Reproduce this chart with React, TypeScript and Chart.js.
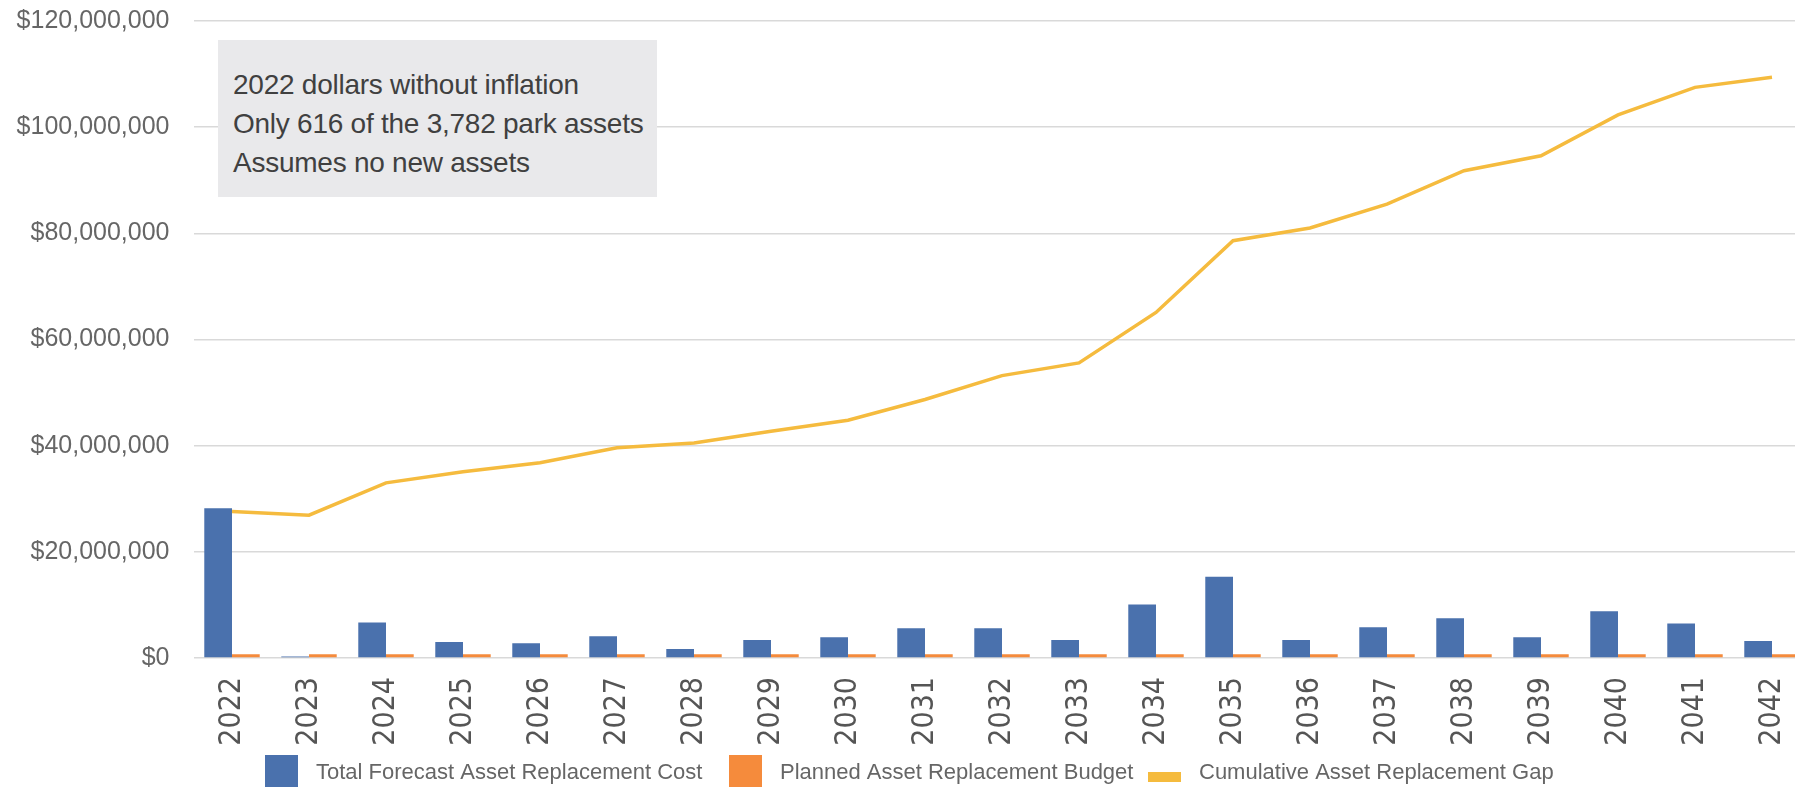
import React, { useEffect, useRef } from "react";
import { Chart, registerables } from "chart.js";

Chart.register(...registerables);

const years = ["2022", "2023", "2024", "2025", "2026", "2027", "2028", "2029", "2030", "2031", "2032", "2033", "2034", "2035", "2036", "2037", "2038", "2039", "2040", "2041", "2042"];

const totalForecastCost = [28200000, 300000, 6700000, 3000000, 2800000, 4100000, 1700000, 3400000, 3900000, 5600000, 5600000, 3400000, 10100000, 15300000, 3400000, 5800000, 7500000, 3900000, 8800000, 6500000, 3200000];

const plannedBudget = [700000, 700000, 700000, 700000, 700000, 700000, 700000, 700000, 700000, 700000, 700000, 700000, 700000, 700000, 700000, 700000, 700000, 700000, 700000, 700000, 700000];

const cumulativeGap = [27600000, 26900000, 33000000, 35100000, 36800000, 39600000, 40500000, 42700000, 44800000, 48700000, 53200000, 55600000, 65100000, 78600000, 81000000, 85500000, 91800000, 94600000, 102300000, 107500000, 109400000];

const yMin = 0;
const yMax = 120000000;
const yStep = 20000000;

const seriesLabels = ["Total Forecast Asset Replacement Cost", "Planned Asset Replacement Budget", "Cumulative Asset Replacement Gap"];
const seriesColors = ["#4a71ad", "#f58b3c", "#f5bb3e"];

const noteLines = ["2022 dollars without inflation", "Only 616 of the 3,782 park assets", "Assumes no new assets"];

const FONT = '"Liberation Sans", Arial, sans-serif';
const NARROW = '"Liberation Sans Narrow", "Arial Narrow", "DejaVu Sans Condensed", sans-serif';

const legendPlugin = {
  id: "bottomLegend",
  afterDraw(chart: any) {
    const ctx = chart.ctx;
    ctx.save();
    ctx.font = `22px ${FONT}`;
    const box = 33;
    const textOffset = 51;
    const starts = [265, 729, 1148];
    const cy = 771;
    chart.data.datasets.forEach((ds: any, i: number) => {
      const x = starts[i];
      ctx.fillStyle = ds.legendColor;
      if (ds.type === "line") {
        ctx.fillRect(x, cy + 1, box, 10);
      } else {
        ctx.fillRect(x, cy - 16, box, 34);
      }
      ctx.fillStyle = "#666666";
      ctx.textBaseline = "middle";
      ctx.textAlign = "left";
      ctx.fillText(ds.label, x + textOffset, cy + 2);
    });
    ctx.restore();
  },
};

export default function App() {
  const canvasRef = useRef<HTMLCanvasElement | null>(null);

  useEffect(() => {
    if (!canvasRef.current) return;
    const chart = new Chart(canvasRef.current, {
      type: "bar",
      data: {
        labels: years,
        datasets: [
          {
            type: "bar",
            label: seriesLabels[0],
            data: totalForecastCost,
            backgroundColor: seriesColors[0],
            legendColor: seriesColors[0],
            categoryPercentage: 0.72,
            barPercentage: 1,
            order: 2,
          } as any,
          {
            type: "bar",
            label: seriesLabels[1],
            data: plannedBudget,
            backgroundColor: seriesColors[1],
            legendColor: seriesColors[1],
            categoryPercentage: 0.72,
            barPercentage: 1,
            order: 2,
          } as any,
          {
            type: "line",
            label: seriesLabels[2],
            data: cumulativeGap,
            borderColor: seriesColors[2],
            backgroundColor: seriesColors[2],
            legendColor: seriesColors[2],
            borderWidth: 3.5,
            pointRadius: 0,
            tension: 0,
            fill: false,
            order: 0,
          } as any,
        ],
      },
      options: {
        animation: false,
        responsive: true,
        maintainAspectRatio: false,
        layout: { padding: { top: 20.6, right: 1.5, bottom: 0, left: 0 } },
        plugins: {
          legend: { display: false },
          tooltip: { enabled: false },
        },
        scales: {
          x: {
            grid: { display: false, drawTicks: true, tickLength: 19, tickColor: "rgba(0,0,0,0)" },
            border: { display: false },
            ticks: {
              minRotation: 90,
              maxRotation: 90,
              autoSkip: false,
              padding: 0,
              color: "#555555",
              font: { family: NARROW, size: 30 },
            },
            afterFit(scale: any) {
              scale.height = 129;
            },
          },
          y: {
            min: yMin,
            max: yMax,
            grid: { color: "#d9d9d9", lineWidth: 1.6, drawTicks: true, tickLength: 18, tickColor: "rgba(0,0,0,0)" },
            border: { display: false },
            ticks: {
              stepSize: yStep,
              padding: 6,
              color: "#666666",
              font: { family: FONT, size: 25 },
              callback: (v: any) => "$" + Number(v).toLocaleString("en-US"),
            },
            afterFit(scale: any) {
              scale.width = 193.5;
            },
          },
        },
      },
      plugins: [legendPlugin],
    });
    return () => chart.destroy();
  }, []);

  return (
    <div
      style={{
        position: "fixed",
        left: 0,
        top: 0,
        width: 1795,
        height: 787,
        overflow: "hidden",
        background: "#ffffff",
      }}
    >
      <div style={{ position: "absolute", left: 0, top: 0, width: 1812, height: 787 }}>
        <canvas ref={canvasRef} />
      </div>
      <div
        style={{
          position: "absolute",
          left: 218,
          top: 40,
          width: 439,
          height: 157,
          boxSizing: "border-box",
          background: "#e9e9eb",
          paddingLeft: 15,
          paddingTop: 24.5,
          fontFamily: FONT,
          fontSize: 28,
          letterSpacing: "-0.25px",
          lineHeight: "39px",
          color: "#404040",
          whiteSpace: "nowrap",
        }}
      >
        {noteLines.map((t) => (
          <div key={t}>{t}</div>
        ))}
      </div>
    </div>
  );
}
